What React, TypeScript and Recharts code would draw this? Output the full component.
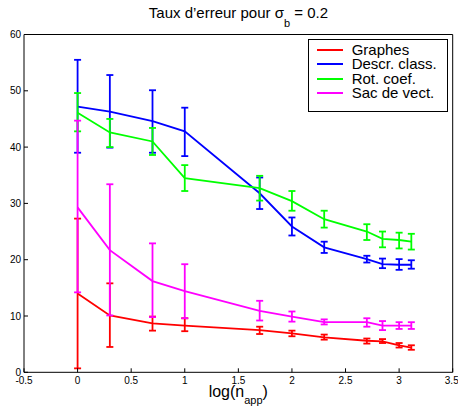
import { LineChart, Line, XAxis, YAxis, ErrorBar, Legend } from 'recharts';

// log10 of the training set sizes
const xVals = [0, 0.301, 0.699, 1, 1.699, 2, 2.301, 2.699, 2.845, 3, 3.114];

const graphes = [14.0, 10.1, 8.7, 8.3, 7.5, 6.9, 6.2, 5.6, 5.5, 4.8, 4.4];
const graphesLo = [0.7, 4.5, 7.4, 7.3, 6.8, 6.4, 5.8, 5.1, 5.2, 4.4, 4.0];
const graphesHi = [27.3, 15.8, 9.9, 9.6, 8.1, 7.4, 6.7, 6.0, 5.9, 5.2, 4.8];

const descr = [47.2, 46.3, 44.6, 42.8, 31.8, 25.9, 22.2, 20.1, 19.2, 19.1, 19.1];
const descrLo = [39.0, 39.9, 39.0, 38.4, 29.0, 24.3, 21.2, 19.5, 18.5, 18.2, 18.4];
const descrHi = [55.5, 52.8, 50.1, 47.0, 34.6, 27.5, 23.2, 20.7, 20.2, 20.1, 19.9];

const rot = [46.1, 42.6, 41.0, 34.5, 32.7, 30.4, 27.2, 25.0, 23.7, 23.5, 23.2];
const rotLo = [42.8, 40.0, 38.6, 32.2, 30.5, 28.7, 25.7, 23.5, 22.2, 22.0, 21.8];
const rotHi = [49.6, 45.0, 43.4, 36.8, 34.9, 32.2, 28.7, 26.3, 25.0, 24.8, 24.6];

const sac = [29.3, 21.7, 16.2, 14.4, 10.9, 9.9, 8.9, 8.9, 8.3, 8.3, 8.3];
const sacLo = [14.2, 10.1, 9.8, 9.6, 9.2, 9.0, 8.5, 8.1, 7.5, 7.7, 7.7];
const sacHi = [44.7, 33.4, 22.9, 19.2, 12.7, 10.8, 9.4, 9.6, 9.1, 8.9, 8.9];

const seriesKeys = ['graphes', 'descr', 'rot', 'sac'];
const seriesNames = ['Graphes', 'Descr. class.', 'Rot. coef.', 'Sac de vect.'];
const seriesColors = ['#ff0000', '#0000ff', '#00ff00', '#ff00ff'];

const xTicks = [-0.5, 0, 0.5, 1, 1.5, 2, 2.5, 3, 3.5];
const yTicks = [0, 10, 20, 30, 40, 50, 60];

const err = (v: number[], lo: number[], hi: number[], i: number) => [v[i] - lo[i], hi[i] - v[i]];

const data = xVals.map((x, i) => ({
  x,
  graphes: graphes[i],
  graphesErr: err(graphes, graphesLo, graphesHi, i),
  descr: descr[i],
  descrErr: err(descr, descrLo, descrHi, i),
  rot: rot[i],
  rotErr: err(rot, rotLo, rotHi, i),
  sac: sac[i],
  sacErr: err(sac, sacLo, sacHi, i),
}));

const FONT = '"Liberation Sans", Arial, Helvetica, sans-serif';
const tickStyle = { fontSize: 10, fill: '#000', fontFamily: FONT };

// legend keeps the plotting order, like the original figure
function LegendBox() {
  return (
    <div
      style={{
        width: 140,
        height: 73,
        boxSizing: 'border-box',
        border: '1px solid #000',
        background: '#fff',
        paddingTop: 2.8,
        fontFamily: FONT,
      }}
    >
      {seriesNames.map((name, i) => (
        <div key={name} style={{ display: 'flex', alignItems: 'center', height: 14.4 }}>
          <div style={{ marginLeft: 7.7, width: 26, height: 2, background: seriesColors[i] }} />
          <span style={{ marginLeft: 8.7, fontSize: 15, lineHeight: '14.4px', color: '#000' }}>{name}</span>
        </div>
      ))}
    </div>
  );
}

export default function App() {
  return (
    <div style={{ position: 'absolute', left: 0, top: 0, width: 458, height: 409, background: '#fff' }}>
      <LineChart width={458} height={409} data={data} margin={{ top: 0, right: 0, bottom: 0, left: 0 }}>
        <XAxis
          xAxisId="b"
          dataKey="x"
          type="number"
          domain={[-0.5, 3.5]}
          ticks={xTicks}
          height={36.7}
          tickSize={-4}
          tickMargin={8.6}
          stroke="#000"
          tick={tickStyle}
        />
        <XAxis
          xAxisId="t"
          orientation="top"
          dataKey="x"
          type="number"
          domain={[-0.5, 3.5]}
          ticks={xTicks}
          height={34.5}
          tickSize={-4}
          stroke="#000"
          tick={false}
        />
        <YAxis
          yAxisId="l"
          type="number"
          domain={[0, 60]}
          ticks={yTicks}
          width={24}
          tickSize={-4}
          tickMargin={7}
          stroke="#000"
          tick={tickStyle}
        />
        <YAxis
          yAxisId="r"
          orientation="right"
          type="number"
          domain={[0, 60]}
          ticks={yTicks}
          width={5.3}
          tickSize={-4}
          stroke="#000"
          tick={false}
        />
        <Legend
          layout="horizontal"
          verticalAlign="middle"
          align="center"
          content={<LegendBox />}
          wrapperStyle={{ top: 39, left: 308.3, width: 140 }}
        />
        {seriesKeys.map((key, i) => (
          <Line
            key={key}
            xAxisId="b"
            yAxisId="l"
            dataKey={key}
            name={seriesNames[i]}
            stroke={seriesColors[i]}
            strokeWidth={1.8}
            dot={false}
            isAnimationActive={false}
          >
            <ErrorBar
              dataKey={key + 'Err'}
              direction="y"
              width={3.5}
              stroke={seriesColors[i]}
              strokeWidth={1.8}
              isAnimationActive={false}
            />
          </Line>
        ))}
      </LineChart>
      <svg
        width={458}
        height={409}
        style={{ position: 'absolute', left: 0, top: 0, pointerEvents: 'none' }}
        fontFamily={FONT}
      >
        <text x={148.8} y={18} fontSize={15} fill="#000">
          Taux d’erreur pour σ<tspan fontSize={11} dy={8.5}>b</tspan>
          <tspan dy={-8.5}> = 0.2</tspan>
        </text>
        <text x={238.3} y={396.7} fontSize={16} fill="#000" textAnchor="middle">
          log(n<tspan fontSize={11} dy={7.5}>app</tspan>
          <tspan dy={-7.5}>)</tspan>
        </text>
      </svg>
    </div>
  );
}
